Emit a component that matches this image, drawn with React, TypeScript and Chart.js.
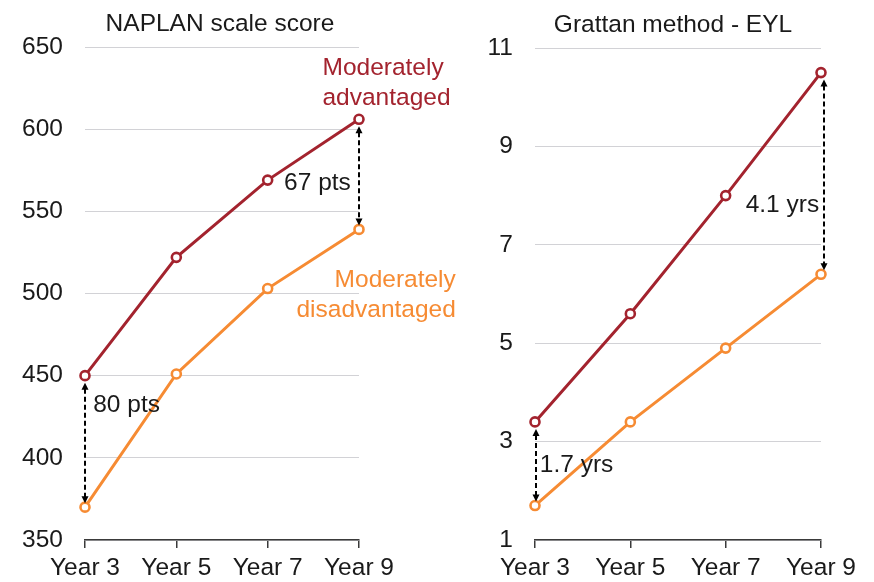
import React, { useEffect, useRef } from "react";
import { Chart, registerables } from "chart.js";

Chart.register(...registerables);

// ---- Data ----
const categories = ["Year 3", "Year 5", "Year 7", "Year 9"];

const naplanAdvantaged = [450, 522, 569, 606];
const naplanDisadvantaged = [370, 451, 503, 539];
const naplanTicks = [350, 400, 450, 500, 550, 600, 650];

const eylAdvantaged = [3.4, 5.6, 8.0, 10.5];
const eylDisadvantaged = [1.7, 3.4, 4.9, 6.4];
const eylTicks = [1, 3, 5, 7, 9, 11];

const naplanTitle = "NAPLAN scale score";
const eylTitle = "Grattan method - EYL";

const gapIndices = [0, 3];
const naplanGapLabels = ["80 pts", "67 pts"];
const eylGapLabels = ["1.7 yrs", "4.1 yrs"];

const advantagedLabel = ["Moderately", "advantaged"];
const disadvantagedLabel = ["Moderately", "disadvantaged"];

// ---- Styles ----
const RED = "#A3232E";
const ORANGE = "#F68B33";
const TEXT = "#1a1a1a";
const GRID = "#D2D2D6";
const AXIS = "#3a3a3a";
const FONT_FAMILY = '"Liberation Sans", Arial, Helvetica, sans-serif';
const FONT_SIZE = 24.5;

type Note = { lines: string[]; xIdx: number; yVal: number; color: string; align: CanvasTextAlign };

type PanelSpec = {
  title: string;
  titleShift: number;
  adv: number[];
  dis: number[];
  ticks: number[];
  min: number;
  max: number;
  canvasLeft: number;
  canvasWidth: number;
  yAxisWidth: number;
  padTop: number;
  padRight: number;
  gapLabels: string[];
  gapLabelPos: { xIdx: number; yVal: number }[];
  arrowDx: number[];
  notes: Note[];
};

const naplanSpec: PanelSpec = {
  title: naplanTitle,
  titleShift: -2,
  adv: naplanAdvantaged,
  dis: naplanDisadvantaged,
  ticks: naplanTicks,
  min: 350,
  max: 650,
  canvasLeft: 0,
  canvasWidth: 480,
  yAxisWidth: 85,
  padTop: 47,
  padRight: 121,
  gapLabels: naplanGapLabels,
  gapLabelPos: [
    { xIdx: 0.09, yVal: 428 },
    { xIdx: 2.18, yVal: 563 },
  ],
  arrowDx: [0, 0],
  notes: [
    { lines: advantagedLabel, xIdx: 2.6, yVal: 633, color: RED, align: "left" },
    { lines: disadvantagedLabel, xIdx: 4.06, yVal: 504, color: ORANGE, align: "right" },
  ],
};

const eylSpec: PanelSpec = {
  title: eylTitle,
  titleShift: -5,
  adv: eylAdvantaged,
  dis: eylDisadvantaged,
  ticks: eylTicks,
  min: 1,
  max: 11,
  canvasLeft: 437,
  canvasWidth: 437,
  yAxisWidth: 98,
  padTop: 48,
  padRight: 53,
  gapLabels: eylGapLabels,
  gapLabelPos: [
    { xIdx: 0.05, yVal: 2.38 },
    { xIdx: 2.21, yVal: 7.67 },
  ],
  arrowDx: [1, 3],
  notes: [],
};

function drawArrowHead(ctx: CanvasRenderingContext2D, x: number, y: number, dir: number) {
  ctx.beginPath();
  ctx.moveTo(x, y);
  ctx.lineTo(x - 3.5, y + dir * 7);
  ctx.lineTo(x + 3.5, y + dir * 7);
  ctx.closePath();
  ctx.fill();
}

function makeAnnotations(spec: PanelSpec) {
  return {
    id: "annotations",
    afterDatasetsDraw(chart: any) {
      const ctx: CanvasRenderingContext2D = chart.ctx;
      const xs = chart.scales.x;
      const ys = chart.scales.y;
      const area = chart.chartArea;
      ctx.save();
      ctx.font = `${FONT_SIZE}px ${FONT_FAMILY}`;
      ctx.textBaseline = "alphabetic";

      // title
      ctx.fillStyle = TEXT;
      ctx.textAlign = "center";
      ctx.fillText(spec.title, (area.left + area.right) / 2 + spec.titleShift, area.top - 16);

      // gap arrows
      gapIndices.forEach((idx, k) => {
        const x = xs.getPixelForValue(idx) + spec.arrowDx[k];
        const yTop = ys.getPixelForValue(spec.adv[idx]) + 7;
        const yBot = ys.getPixelForValue(spec.dis[idx]) - 4;
        ctx.strokeStyle = "#000";
        ctx.fillStyle = "#000";
        ctx.lineWidth = 2;
        ctx.setLineDash([5, 3]);
        ctx.beginPath();
        ctx.moveTo(x, yTop + 6);
        ctx.lineTo(x, yBot - 6);
        ctx.stroke();
        ctx.setLineDash([]);
        drawArrowHead(ctx, x, yTop, 1);
        drawArrowHead(ctx, x, yBot, -1);

        const pos = spec.gapLabelPos[k];
        ctx.fillStyle = TEXT;
        ctx.textAlign = "left";
        ctx.fillText(spec.gapLabels[k], xs.getPixelForValue(pos.xIdx), ys.getPixelForValue(pos.yVal));
      });

      // series labels
      spec.notes.forEach((n) => {
        ctx.fillStyle = n.color;
        ctx.textAlign = n.align;
        const x = xs.getPixelForValue(n.xIdx);
        const y0 = ys.getPixelForValue(n.yVal);
        n.lines.forEach((line, i) => ctx.fillText(line, x, y0 + i * 30));
      });
      ctx.restore();
    },
  };
}

function Panel({ spec }: { spec: PanelSpec }) {
  const ref = useRef<HTMLCanvasElement | null>(null);
  useEffect(() => {
    if (!ref.current) return;
    const font = { family: FONT_FAMILY, size: FONT_SIZE };
    const ds = (data: number[], color: string) => ({
      data,
      borderColor: color,
      backgroundColor: color,
      borderWidth: 3,
      pointRadius: 4.5,
      pointBorderWidth: 2.6,
      pointBackgroundColor: "#ffffff",
      pointBorderColor: color,
      tension: 0,
      clip: false as any,
    });
    const chart = new Chart(ref.current, {
      type: "line",
      data: {
        labels: categories,
        datasets: [ds(spec.dis, ORANGE), ds(spec.adv, RED)],
      },
      options: {
        responsive: false,
        animation: false,
        devicePixelRatio: 1,
        layout: { padding: { top: spec.padTop, right: spec.padRight, bottom: 0, left: 0 } },
        plugins: { legend: { display: false }, tooltip: { enabled: false }, title: { display: false } },
        scales: {
          x: {
            type: "category",
            offset: false,
            grid: { display: true, drawOnChartArea: false, drawTicks: true, tickLength: 8, color: AXIS, lineWidth: 1.5 },
            border: { display: true, color: AXIS, width: 1.5 },
            ticks: { font, color: TEXT, padding: 6, maxRotation: 0, autoSkip: false },
            afterFit: (s: any) => {
              s.height = 42;
            },
          },
          y: {
            type: "linear",
            min: spec.min,
            max: spec.max,
            grid: { color: GRID, lineWidth: 1, drawTicks: false },
            border: { display: false },
            ticks: { font, color: TEXT, padding: 22 },
            afterBuildTicks: (s: any) => {
              s.ticks = spec.ticks.map((v) => ({ value: v }));
            },
            afterFit: (s: any) => {
              s.width = spec.yAxisWidth;
            },
          },
        },
      },
      plugins: [makeAnnotations(spec)],
    });
    return () => chart.destroy();
  }, [spec]);
  return (
    <canvas
      ref={ref}
      width={spec.canvasWidth}
      height={582}
      style={{ position: "absolute", left: spec.canvasLeft, top: 0, display: "block", width: spec.canvasWidth, height: 582 }}
    />
  );
}

export default function App() {
  return (
    <div style={{ position: "absolute", left: 0, top: 0, width: 874, height: 582, background: "#fff" }}>
      <Panel spec={naplanSpec} />
      <Panel spec={eylSpec} />
    </div>
  );
}
